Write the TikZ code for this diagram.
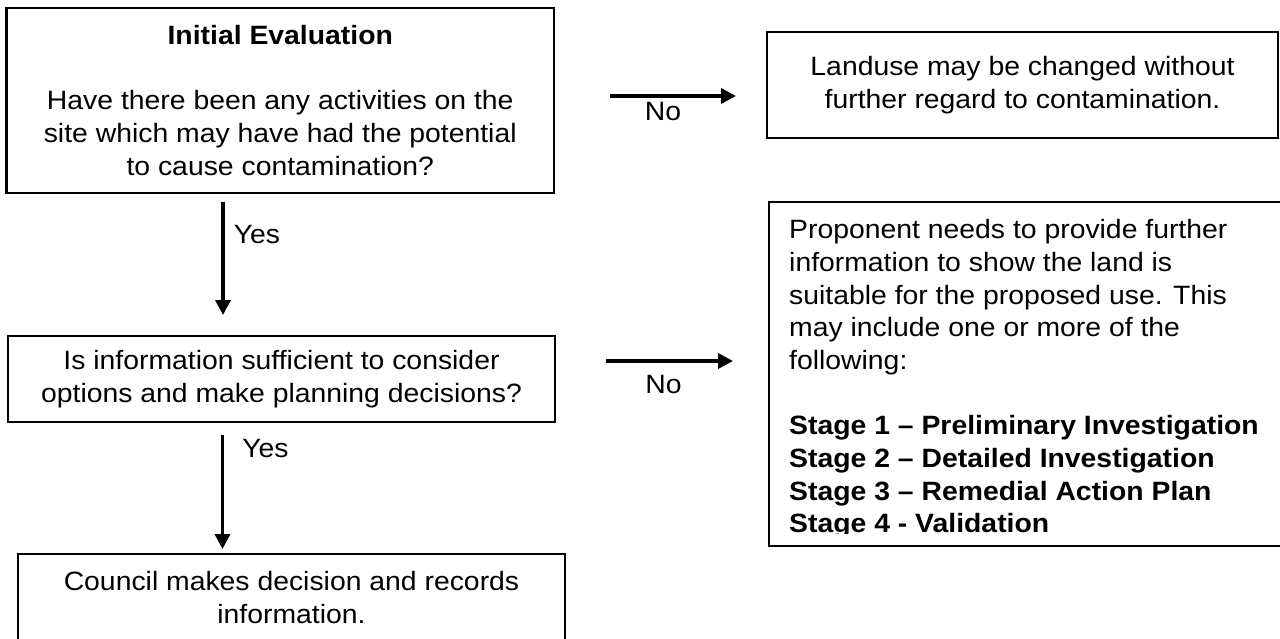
\documentclass[tikz,border=0pt]{standalone}
\usepackage{fontspec}
\setmainfont{Liberation Sans}[FakeStretch=1.07]
\usetikzlibrary{arrows.meta}

\tikzstyle{box} = [draw, line width=2.2pt, align=center, inner sep=0pt]
\tikzstyle{arr} = [line width=3.4pt, -{Triangle[length=15pt,width=15pt]}]
\tikzstyle{lbl} = [inner sep=0pt]

\begin{document}
\begin{tikzpicture}[x=1pt, y=-1pt, font=\fontsize{26.5pt}{32.7pt}\selectfont]
%\draw[step=50, very thin, black!20] (0,0) grid (1280,639);
\useasboundingbox (0,0) rectangle (1280,639);
\node[box, minimum width=547.5pt, minimum height=185pt] (eval) at (280.25,100.5) {\textbf{Initial Evaluation}\\[32.7pt]Have there been any activities on the\\site which may have had the potential\\to cause contamination?};
\node[box, minimum width=511pt, minimum height=106pt] (free) at (1022.5,85) {Landuse may be changed without\\further regard to contamination.};
\node[box, minimum width=547pt, minimum height=86pt] (info) at (281.5,379) {Is information sufficient to consider\\options and make planning decisions?};
\node[box, minimum width=547pt, minimum height=87pt] (council) at (291.5,597.5) {Council makes decision and records\\information.};
\node[box, minimum width=560pt, minimum height=344pt, anchor=north west] (need) at (768,201) {};
\begin{scope}
\clip (768,201) rectangle (1300,533);
\node[lbl, anchor=north west, align=left] (needtxt) at (789,219.2) {Proponent needs to provide further\\information to show the land is\\suitable for the proposed use. This\\may include one or more of the\\following:\\[32.7pt]\textbf{Stage 1 -- Preliminary Investigation}\\\textbf{Stage 2 -- Detailed Investigation}\\\textbf{Stage 3 -- Remedial Action Plan}\\\textbf{Stage 4 - Validation}};
\end{scope}
\coordinate (yes1a) at (223,201.7);
\coordinate (yes1b) at (223,315);
\coordinate (yes2a) at (222.5,435);
\coordinate (yes2b) at (222.5,549);
\coordinate (no1a) at (610,96);
\coordinate (no1b) at (736,96);
\coordinate (no2a) at (606,361);
\coordinate (no2b) at (733,361);
\draw[arr] (yes1a) -- (yes1b);
\draw[arr] (yes2a) -- (yes2b);
\draw[arr] (no1a) -- (no1b);
\draw[arr] (no2a) -- (no2b);
\node[lbl] (yes1) at (257,235) {Yes};
\node[lbl] (yes2) at (265.5,449) {Yes};
\node[lbl] (no1) at (663,112) {No};
\node[lbl] (no2) at (663.5,385) {No};
\end{tikzpicture}
\end{document}
